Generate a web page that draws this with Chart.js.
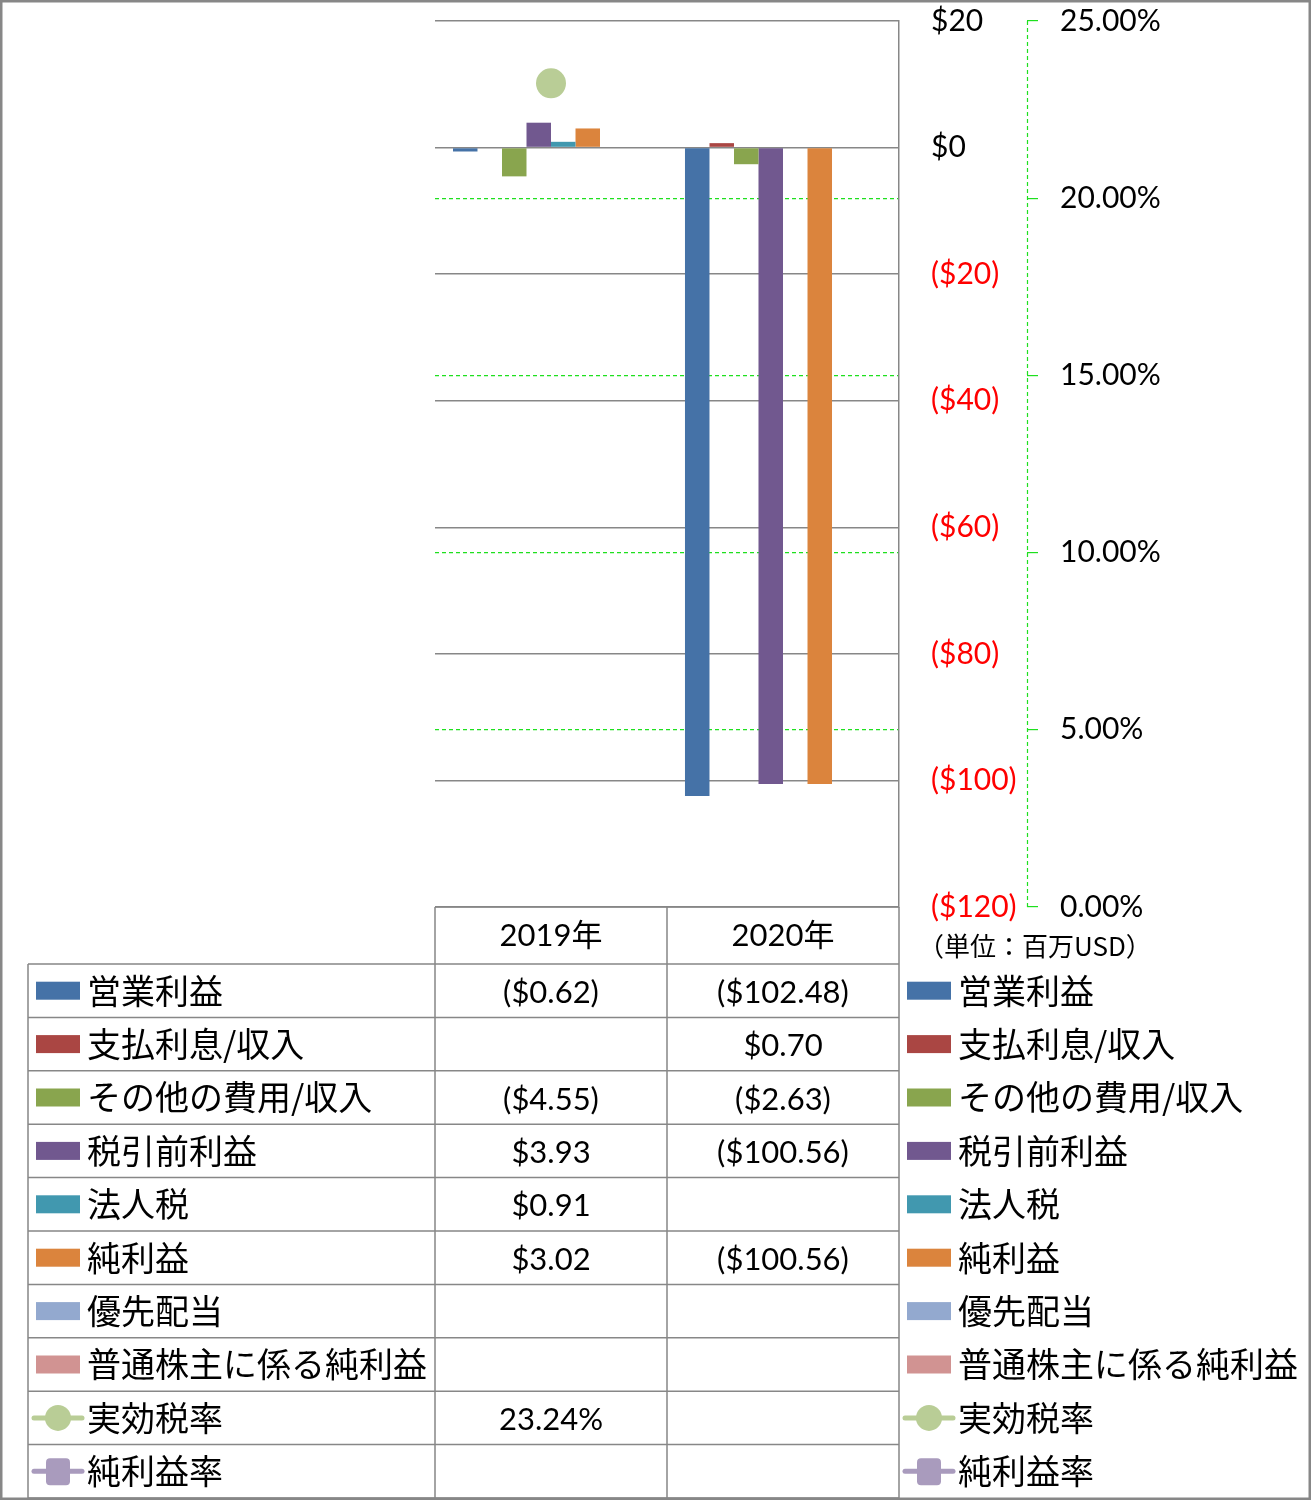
<!DOCTYPE html>
<html>
<head>
<meta charset="utf-8">
<script src="https://cdn.jsdelivr.net/npm/chart.js@4"></script>
<style>
  body { margin: 0; background: #fff; }
  #wrap { width: 1311px; height: 1500px; }
</style>
</head>
<body>
<div id="wrap"><canvas id="c" width="1311" height="1500"></canvas></div>
<script>
// categories and series (millions USD, rates as fractions)
const years = ['2019年', '2020年'];
const operatingIncome = [-0.62, -102.48];
const interestExpense = [null, 0.70];
const otherIncome = [-4.55, -2.63];
const pretaxIncome = [3.93, -100.56];
const incomeTax = [0.91, null];
const netIncome = [3.02, -100.56];
const preferredDiv = [null, null];
const commonNetIncome = [null, null];
const effectiveTaxRate = [0.2324, null];
const netMargin = [null, null];

const moneyTicks = [20, 0, -20, -40, -60, -80, -100, -120];
const pctTicks = [0.25, 0.20, 0.15, 0.10, 0.05, 0];
const unitLabel = '（単位：百万USD）';

const barSeries = [
  { label: '営業利益', data: operatingIncome, color: '#4572a7' },
  { label: '支払利息/収入', data: interestExpense, color: '#aa4643' },
  { label: 'その他の費用/収入', data: otherIncome, color: '#89a54e' },
  { label: '税引前利益', data: pretaxIncome, color: '#71588f' },
  { label: '法人税', data: incomeTax, color: '#4198af' },
  { label: '純利益', data: netIncome, color: '#db843d' },
  { label: '優先配当', data: preferredDiv, color: '#93a9cf' },
  { label: '普通株主に係る純利益', data: commonNetIncome, color: '#d19392' }
];
const lineSeries = [
  { label: '実効税率', data: effectiveTaxRate, color: '#b9cd96', marker: 'circle' },
  { label: '純利益率', data: netMargin, color: '#a99bbd', marker: 'rectRounded' }
];

const NUM_FONT = '"Lato", "Open Sans", sans-serif';
const JP_FONT = '"Noto Sans CJK JP", sans-serif';

function fmtMoney(v) {
  if (v === null || v === undefined) return '';
  return v < 0 ? '($' + Math.abs(v).toFixed(2) + ')' : '$' + v.toFixed(2);
}
function fmtPct(v) {
  if (v === null || v === undefined) return '';
  return (v * 100).toFixed(2) + '%';
}

const datasets = barSeries.map(s => ({
  type: 'bar', label: s.label, data: s.data, backgroundColor: s.color,
  yAxisID: 'y', barPercentage: 1, categoryPercentage: 0.845, order: 2
})).concat(lineSeries.map(s => ({
  type: 'line', label: s.label, data: s.data, borderColor: s.color, backgroundColor: s.color,
  yAxisID: 'y1', pointStyle: s.marker, pointRadius: 15, pointBorderWidth: 0, borderWidth: 3, order: 1
})));

const GRAY = '#878787';
const GREEN = '#1ee01e';
const ROW_H = 53.4;

const tablePlugin = {
  id: 'dataTable',
  afterDraw(chart) {
    const ctx = chart.ctx;
    const area = chart.chartArea;
    const x = chart.scales.x;
    const y1 = chart.scales.y1;
    const colW = (area.right - area.left) / years.length;
    const headTop = area.bottom;
    const bodyTop = headTop + 57;
    const allSeries = barSeries.map(s => ({ ...s, kind: 'bar' }))
      .concat(lineSeries.map(s => ({ ...s, kind: 'line' })));
    const bottom = bodyTop + allSeries.length * ROW_H;
    const leftEdge = 28;

    ctx.save();
    // dashed axis line for the percentage axis
    ctx.strokeStyle = GREEN;
    ctx.lineWidth = 1.2;
    ctx.setLineDash([4, 3]);
    ctx.beginPath();
    ctx.moveTo(y1.left + 0.5, y1.top);
    ctx.lineTo(y1.left + 0.5, y1.bottom);
    ctx.stroke();
    ctx.setLineDash([]);

    // table grid
    ctx.strokeStyle = GRAY;
    ctx.lineWidth = 1.5;
    ctx.beginPath();
    ctx.moveTo(area.left, headTop); ctx.lineTo(area.right, headTop);
    for (let i = 0; i <= years.length; i++) {
      const cx = area.left + i * colW;
      ctx.moveTo(cx, headTop); ctx.lineTo(cx, bottom);
    }
    for (let r = 0; r <= allSeries.length; r++) {
      const ry = bodyTop + r * ROW_H;
      ctx.moveTo(leftEdge, ry); ctx.lineTo(area.right, ry);
    }
    ctx.moveTo(leftEdge, bodyTop); ctx.lineTo(leftEdge, bottom);
    ctx.stroke();

    // header
    ctx.fillStyle = '#000';
    ctx.textBaseline = 'middle';
    years.forEach((yr, i) => {
      const cx = x.getPixelForValue(i);
      const num = yr.replace('年', '');
      ctx.font = '31px ' + NUM_FONT;
      const w1 = ctx.measureText(num).width;
      ctx.font = '31px ' + JP_FONT;
      const w2 = ctx.measureText('年').width;
      const sx = cx - (w1 + w2) / 2;
      ctx.textAlign = 'left';
      ctx.font = '31px ' + NUM_FONT;
      ctx.fillText(num, sx, headTop + 29);
      ctx.font = '31px ' + JP_FONT;
      ctx.fillText('年', sx + w1, headTop + 27);
    });

    // unit label
    ctx.textAlign = 'left';
    ctx.font = '26px ' + JP_FONT;
    ctx.fillText(unitLabel, 918, headTop + 39);

    const drawKey = (s, kx, ky) => {
      if (s.kind === 'bar') {
        ctx.fillStyle = s.color;
        ctx.fillRect(kx + 2, ky - 9, 44, 18);
      } else {
        ctx.strokeStyle = s.color;
        ctx.lineWidth = 5;
        ctx.lineCap = 'round';
        ctx.beginPath();
        ctx.moveTo(kx, ky); ctx.lineTo(kx + 48, ky);
        ctx.stroke();
        ctx.fillStyle = s.color;
        if (s.marker === 'circle') {
          ctx.beginPath(); ctx.arc(kx + 24, ky, 13, 0, Math.PI * 2); ctx.fill();
        } else {
          ctx.beginPath();
          ctx.roundRect(kx + 12, ky - 13, 24, 27, 4);
          ctx.fill();
        }
      }
    };

    allSeries.forEach((s, r) => {
      const cy = bodyTop + r * ROW_H + ROW_H / 2;
      // left legend
      drawKey(s, 34, cy);
      ctx.fillStyle = '#000';
      ctx.textAlign = 'left';
      ctx.font = '34px ' + JP_FONT;
      ctx.fillText(s.label, 87, cy);
      // right legend
      drawKey(s, 905, cy);
      ctx.fillStyle = '#000';
      ctx.textAlign = 'left';
      ctx.font = '34px ' + JP_FONT;
      ctx.fillText(s.label, 958, cy);
      // values
      ctx.textAlign = 'center';
      ctx.font = '31px ' + NUM_FONT;
      s.data.forEach((v, i) => {
        const txt = s.kind === 'bar' ? fmtMoney(v) : fmtPct(v);
        ctx.fillText(txt, x.getPixelForValue(i), cy + 2);
      });
    });

    // outer frame
    ctx.strokeStyle = GRAY;
    ctx.lineWidth = 3;
    ctx.strokeRect(1, 1, chart.width - 2, chart.height - 2);
    ctx.restore();
  }
};

new Chart(document.getElementById('c'), {
  data: { labels: years, datasets },
  options: {
    responsive: false,
    animation: false,
    events: [],
    layout: { padding: { left: 435, top: 21, right: 0, bottom: 593 } },
    plugins: { legend: { display: false }, tooltip: { enabled: false } },
    scales: {
      x: { type: 'category', display: false, offset: true },
      y: {
        position: 'right', min: -120, max: 20,
        afterBuildTicks: s => { s.ticks = moneyTicks.map(v => ({ value: v })); },
        afterFit: s => { s.width = 128; s.paddingTop = 0; s.paddingBottom = 0; },
        grid: { color: GRAY, lineWidth: 1.5, drawTicks: false },
        border: { display: true, color: GRAY, width: 1.5 },
        ticks: {
          padding: 32,
          font: { size: 30, family: NUM_FONT },
          color: c => c.tick.value < 0 ? '#ff0000' : '#000',
          callback: v => v < 0 ? '($' + Math.abs(v) + ')' : '$' + v
        }
      },
      y1: {
        position: 'right', min: 0, max: 0.25,
        afterBuildTicks: s => { s.ticks = pctTicks.map(v => ({ value: v })); },
        afterFit: s => { s.width = 284; s.paddingTop = 0; s.paddingBottom = 0; },
        grid: {
          color: c => (c.tick && (c.tick.value === 0 || c.tick.value === 0.25)) ? 'rgba(0,0,0,0)' : GREEN,
          tickColor: GREEN, lineWidth: 1.2, drawTicks: true, tickLength: 11
        },
        border: { display: false, dash: [4, 3] },
        ticks: {
          padding: 22,
          font: { size: 30, family: NUM_FONT },
          color: '#000',
          callback: v => (v * 100).toFixed(2) + '%'
        }
      }
    }
  },
  plugins: [tablePlugin]
});
</script>
</body>
</html>
